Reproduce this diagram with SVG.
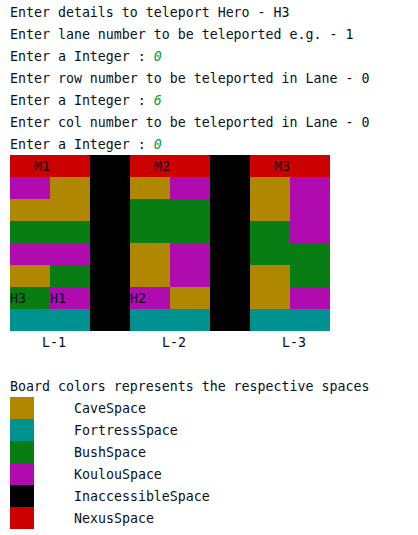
<svg xmlns="http://www.w3.org/2000/svg" width="418" height="535" viewBox="0 0 418 535">
<style>
text{font-family:"DejaVu Sans Mono","Liberation Mono",monospace;font-size:13.28px;fill:#08101c}
.i{font-style:italic;fill:#0a9a2a}
.c{fill:#af8700}.f{fill:#009191}.b{fill:#077d14}.k{fill:#b00bae}.x{fill:#000}.n{fill:#cd0000}
</style>
<rect width="418" height="535" fill="#fff"/>
<g id="console">
<text x="10" y="17">Enter details to teleport Hero - H3</text>
<text x="10" y="39">Enter lane number to be teleported e.g. - 1</text>
<text x="10" y="61">Enter a Integer : <tspan class="i">0</tspan></text>
<text x="10" y="83">Enter row number to be teleported in Lane - 0</text>
<text x="10" y="105">Enter a Integer : <tspan class="i">6</tspan></text>
<text x="10" y="127">Enter col number to be teleported in Lane - 0</text>
<text x="10" y="149">Enter a Integer : <tspan class="i">0</tspan></text>
</g>
<g id="board">
<rect class="n" x="10" y="155" width="80" height="22"/>
<rect class="n" x="130" y="155" width="80" height="22"/>
<rect class="n" x="250" y="155" width="80" height="22"/>
<rect class="x" x="90" y="155" width="40" height="176"/>
<rect class="x" x="210" y="155" width="40" height="176"/>
<rect class="k" x="10" y="177" width="40" height="22"/>
<rect class="c" x="50" y="177" width="40" height="22"/>
<rect class="c" x="10" y="199" width="80" height="22"/>
<rect class="b" x="10" y="221" width="80" height="22"/>
<rect class="k" x="10" y="243" width="80" height="22"/>
<rect class="c" x="10" y="265" width="40" height="22"/>
<rect class="b" x="50" y="265" width="40" height="22"/>
<rect class="b" x="10" y="287" width="40" height="22"/>
<rect class="k" x="50" y="287" width="40" height="22"/>
<rect class="f" x="10" y="309" width="80" height="22"/>
<rect class="c" x="130" y="177" width="40" height="22"/>
<rect class="k" x="170" y="177" width="40" height="22"/>
<rect class="b" x="130" y="199" width="80" height="44"/>
<rect class="c" x="130" y="243" width="40" height="44"/>
<rect class="k" x="170" y="243" width="40" height="44"/>
<rect class="k" x="130" y="287" width="40" height="22"/>
<rect class="c" x="170" y="287" width="40" height="22"/>
<rect class="f" x="130" y="309" width="80" height="22"/>
<rect class="c" x="250" y="177" width="40" height="44"/>
<rect class="k" x="290" y="177" width="40" height="66"/>
<rect class="b" x="250" y="221" width="40" height="44"/>
<rect class="b" x="290" y="243" width="40" height="44"/>
<rect class="c" x="250" y="265" width="40" height="44"/>
<rect class="k" x="290" y="287" width="40" height="22"/>
<rect class="f" x="250" y="309" width="80" height="22"/>
<text x="34" y="171">M1</text>
<text x="154" y="171">M2</text>
<text x="274" y="171">M3</text>
<text x="10" y="303">H3</text>
<text x="50" y="303">H1</text>
<text x="130" y="303">H2</text>
<text x="42" y="347">L-1</text>
<text x="162" y="347">L-2</text>
<text x="282" y="347">L-3</text>
</g>
<g id="legend">
<text x="10" y="391">Board colors represents the respective spaces</text>
<rect class="c" x="10" y="397" width="24" height="22"/>
<rect class="f" x="10" y="419" width="24" height="22"/>
<rect class="b" x="10" y="441" width="24" height="22"/>
<rect class="k" x="10" y="463" width="24" height="22"/>
<rect class="x" x="10" y="485" width="24" height="22"/>
<rect class="n" x="10" y="507" width="24" height="22"/>
<text x="74" y="413">CaveSpace</text>
<text x="74" y="435">FortressSpace</text>
<text x="74" y="457">BushSpace</text>
<text x="74" y="479">KoulouSpace</text>
<text x="74" y="501">InaccessibleSpace</text>
<text x="74" y="523">NexusSpace</text>
</g>
</svg>
